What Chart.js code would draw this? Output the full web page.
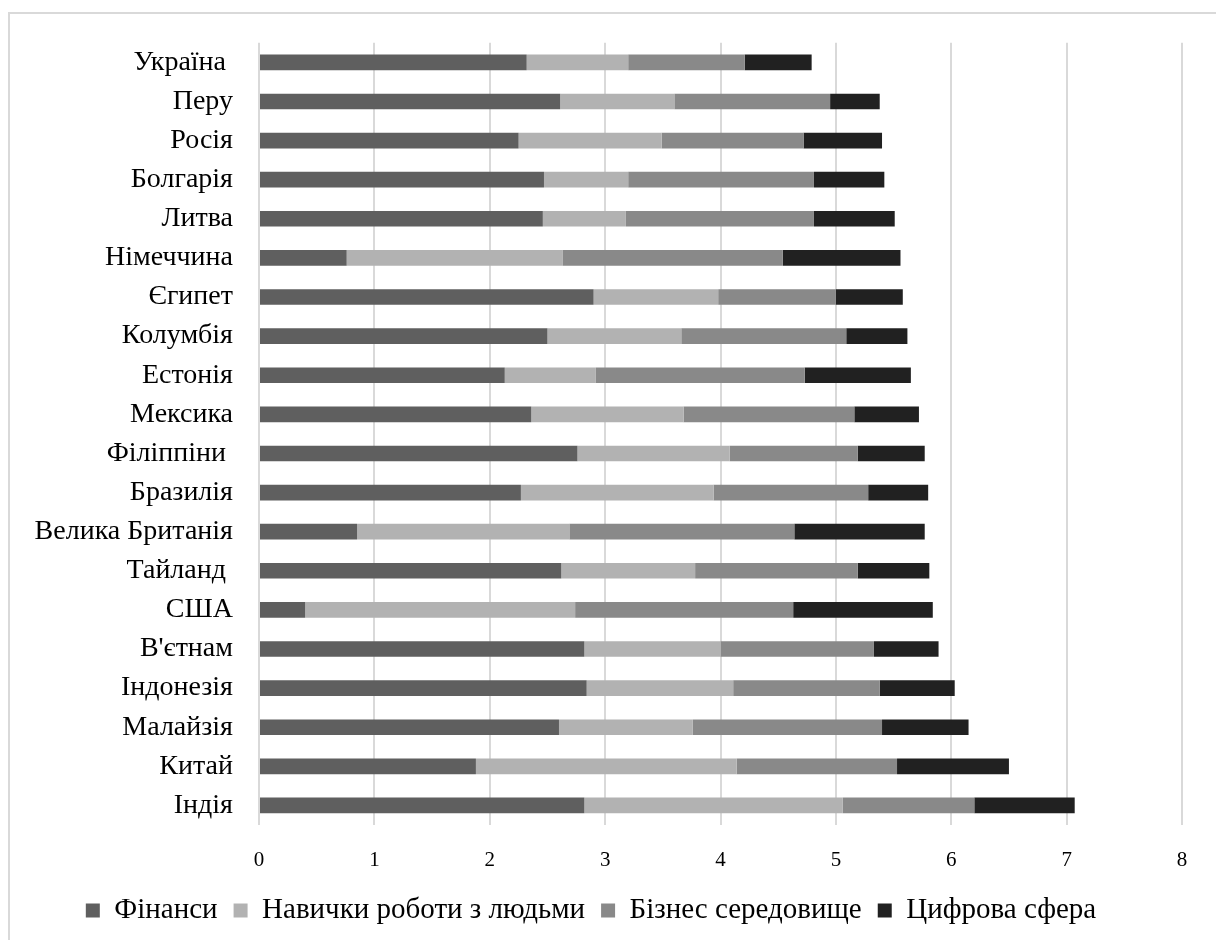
<!DOCTYPE html>
<html>
<head>
<meta charset="utf-8">
<script src="https://cdn.jsdelivr.net/npm/chart.js@4"></script>
<style>
    body { margin: 0; background: #fff; overflow: hidden; }
    .frame { position: absolute; left: 8px; top: 12px; width: 1300px; height: 1000px; border: 2px solid #d9d9d9; }
    .wrap { position: absolute; left: 0; top: 0; width: 1216px; height: 940px; }
</style>
</head>
<body>
<div class="frame"></div>
<div class="wrap"><canvas id="indexChart"></canvas></div>
<script>
// Country index, stacked by component

const countries = ['Україна ', 'Перу', 'Росія', 'Болгарія', 'Литва', 'Німеччина', 'Єгипет', 'Колумбія', 'Естонія', 'Мексика',
    'Філіппіни ', 'Бразилія', 'Велика Британія', 'Тайланд ', 'США', "В'єтнам", 'Індонезія', 'Малайзія', 'Китай', 'Індія'];

const finance  = [2.32, 2.61, 2.25, 2.47, 2.46, 0.76, 2.90, 2.50, 2.13, 2.36, 2.76, 2.27, 0.85, 2.62, 0.40, 2.82, 2.84, 2.60, 1.88, 2.82];
const people   = [0.88, 0.99, 1.24, 0.73, 0.72, 1.87, 1.08, 1.16, 0.79, 1.32, 1.32, 1.67, 1.84, 1.16, 2.34, 1.18, 1.27, 1.16, 2.26, 2.24];
const business = [1.01, 1.35, 1.23, 1.61, 1.63, 1.91, 1.02, 1.43, 1.81, 1.48, 1.11, 1.34, 1.95, 1.41, 1.89, 1.33, 1.27, 1.64, 1.39, 1.14];
const digital  = [0.58, 0.43, 0.68, 0.61, 0.70, 1.02, 0.58, 0.53, 0.92, 0.56, 0.58, 0.52, 1.13, 0.62, 1.21, 0.56, 0.65, 0.75, 0.97, 0.87];

const seriesNames = ['Фінанси', 'Навички роботи з людьми', 'Бізнес середовище', 'Цифрова сфера'];
const xTicks = [0, 1, 2, 3, 4, 5, 6, 7, 8];

const serif = '"Liberation Serif", "Times New Roman", serif';

function makeSet(label, data, color) {
    return {
        label: label,
        data: data,
        backgroundColor: color,
        borderWidth: 0,
        categoryPercentage: 1,
        barPercentage: 0.4
    };
}

new Chart(document.getElementById('indexChart'), {
    type: 'bar',
    data: {
        labels: countries,
        datasets: [
            makeSet(seriesNames[0], finance, '#5f5f5f'),
            makeSet(seriesNames[1], people, '#b2b2b2'),
            makeSet(seriesNames[2], business, '#898989'),
            makeSet(seriesNames[3], digital, '#212121')
        ]
    },
    options: {
        indexAxis: 'y',
        responsive: true,
        maintainAspectRatio: false,
        animation: false,
        layout: {
            padding: { top: 42, right: 34, bottom: 5, left: 0 }
        },
        plugins: {
            legend: {
                position: 'bottom',
                labels: {
                    boxWidth: 14,
                    boxHeight: 14,
                    padding: 16,
                    color: '#000',
                    font: { family: serif, size: 29 }
                }
            },
            tooltip: { enabled: false }
        },
        scales: {
            x: {
                stacked: true,
                min: 0,
                max: 8,
                afterBuildTicks: function(scale) {
                    scale.ticks = xTicks.map(v => ({ value: v }));
                },
                afterFit: function(scale) { scale.height = 55; },
                grid: { color: '#d9d9d9', lineWidth: 2, drawTicks: false },
                border: { display: false },
                ticks: {
                    padding: 23,
                    color: '#000',
                    font: { family: serif, size: 21 }
                }
            },
            y: {
                stacked: true,
                afterFit: function(scale) { scale.width = 259; },
                grid: { display: false, drawTicks: false },
                border: { display: false },
                ticks: {
                    padding: 26,
                    color: '#000',
                    autoSkip: false,
                    font: { family: serif, size: 28 }
                }
            }
        }
    }
});
</script>
</body>
</html>
